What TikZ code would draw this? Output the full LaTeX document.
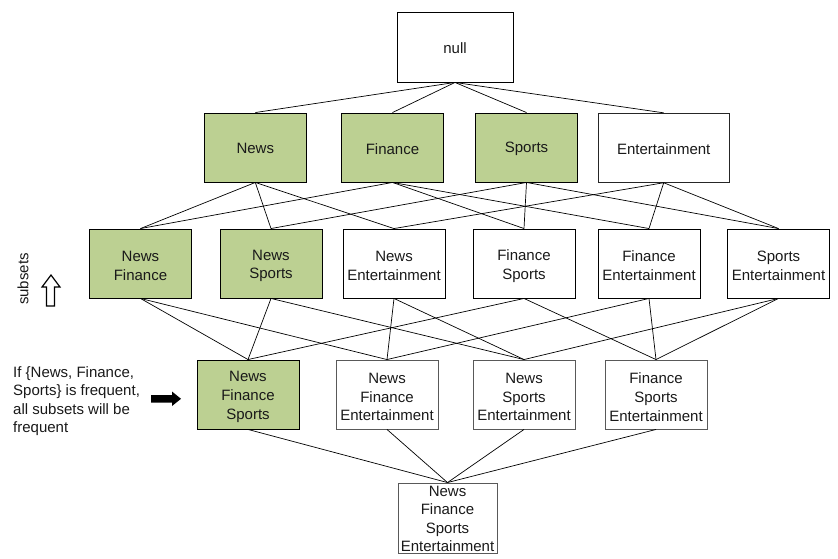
\documentclass[tikz,border=0pt]{standalone}
\usepackage{fontspec}
\setmainfont{Liberation Sans}
\definecolor{boxgreen}{RGB}{188,208,146}
\newcommand\lbox[5]{\node[#1] (#2) at (#3) {}; \node[txt] (#2t) at ([yshift=#4]#2.center) {#5};}
\begin{document}
\begin{tikzpicture}[x=1pt,y=-1pt,
  every node/.style={font=\fontsize{15}{18.7}\selectfont},
  item/.style={draw=black, line width=0.9pt, minimum width=102pt, minimum height=69pt, inner sep=0pt},
  txt/.style={inner sep=0pt, align=center, text=black!90},
  freq/.style={item, fill=boxgreen},
  greyitem/.style={item, draw=black!65},
  link/.style={line width=0.7pt, black}]
\useasboundingbox (0,0) rectangle (838,559);
% top
\lbox{item, minimum width=116pt, minimum height=70pt}{null}{455,47}{-1.5pt}{null}
% row 1
\lbox{freq}{N}{255.3,147.5}{-1.3pt}{News}
\lbox{freq}{F}{392.5,147.5}{-1.3pt}{Finance}
\lbox{freq}{S}{526.5,147.5}{-1.3pt}{Sports}
\lbox{item, minimum width=130.7pt, draw=black!85}{E}{663.7,147.8}{-1.3pt}{Entertainment}
% row 2
\lbox{freq}{NF}{140.5,263.5}{-2.4pt}{News\\Finance}
\lbox{freq}{NS}{271,263.5}{-2.4pt}{News\\Sports}
\lbox{item}{NE}{394,263.5}{-2.4pt}{News\\Entertainment}
\lbox{item}{FS}{524,263.5}{-2.4pt}{Finance\\Sports}
\lbox{item}{FE}{649,263.5}{-2.4pt}{Finance\\Entertainment}
\lbox{item}{SE}{778.5,263.5}{-2.4pt}{Sports\\Entertainment}
% row 3
\lbox{freq}{NFS}{248,394.5}{-2.5pt}{News\\Finance\\Sports}
\lbox{greyitem}{NFE}{387,394.5}{-2.5pt}{News\\Finance\\Entertainment}
\lbox{greyitem}{NSE}{524,394.5}{-2.5pt}{News\\Sports\\Entertainment}
\lbox{greyitem}{FSE}{656,394.5}{-2.5pt}{Finance\\Sports\\Entertainment}
% row 4
\node[greyitem, minimum width=99pt, minimum height=70pt] (NFSE) at (447.5,518) {};
\node[txt, font=\fontsize{15}{18.4}\selectfont] (NFSEt) at ([yshift=-0.8pt]NFSE.center) {News\\Finance\\Sports\\Entertainment};
% edges null -> row1
\foreach \c in {N,F,S,E} \draw[link] (null.south) -- (\c.north);
% row1 -> row2
\foreach \a/\b in {N/NF,N/NS,N/NE,F/NF,F/FS,F/FE,S/NS,S/FS,S/SE,E/NE,E/FE,E/SE}
  \draw[link] (\a.south) -- (\b.north);
% row2 -> row3
\foreach \a/\b in {NF/NFS,NF/NFE,NS/NFS,NS/NSE,NE/NFE,NE/NSE,FS/NFS,FS/FSE,FE/NFE,FE/FSE,SE/NSE,SE/FSE}
  \draw[link] (\a.south) -- (\b.north);
% row3 -> row4
\foreach \a in {NFS,NFE,NSE,FSE} \draw[link] (\a.south) -- (NFSE.north);
% side annotations
\node[rotate=90, inner sep=0pt, text=black!90] (subs) at (23,279) {subsets};
\draw[line width=1.2pt, fill=white] (51,275) -- (60,287) -- (54.5,287) -- (54.5,306) -- (46.5,306) -- (46.5,287) -- (42,287) -- cycle;
\node[anchor=west, align=left, inner sep=0pt, font=\fontsize{15}{18.3}\selectfont, text=black!90] (note) at (13,401) {If \{News, Finance,\\Sports\} is frequent,\\all subsets will be\\frequent};
\fill[black] (151,395) -- (172,395) -- (172,391.5) -- (181,398.8) -- (172,406) -- (172,402.7) -- (151,402.7) -- cycle;
\end{tikzpicture}
\end{document}
